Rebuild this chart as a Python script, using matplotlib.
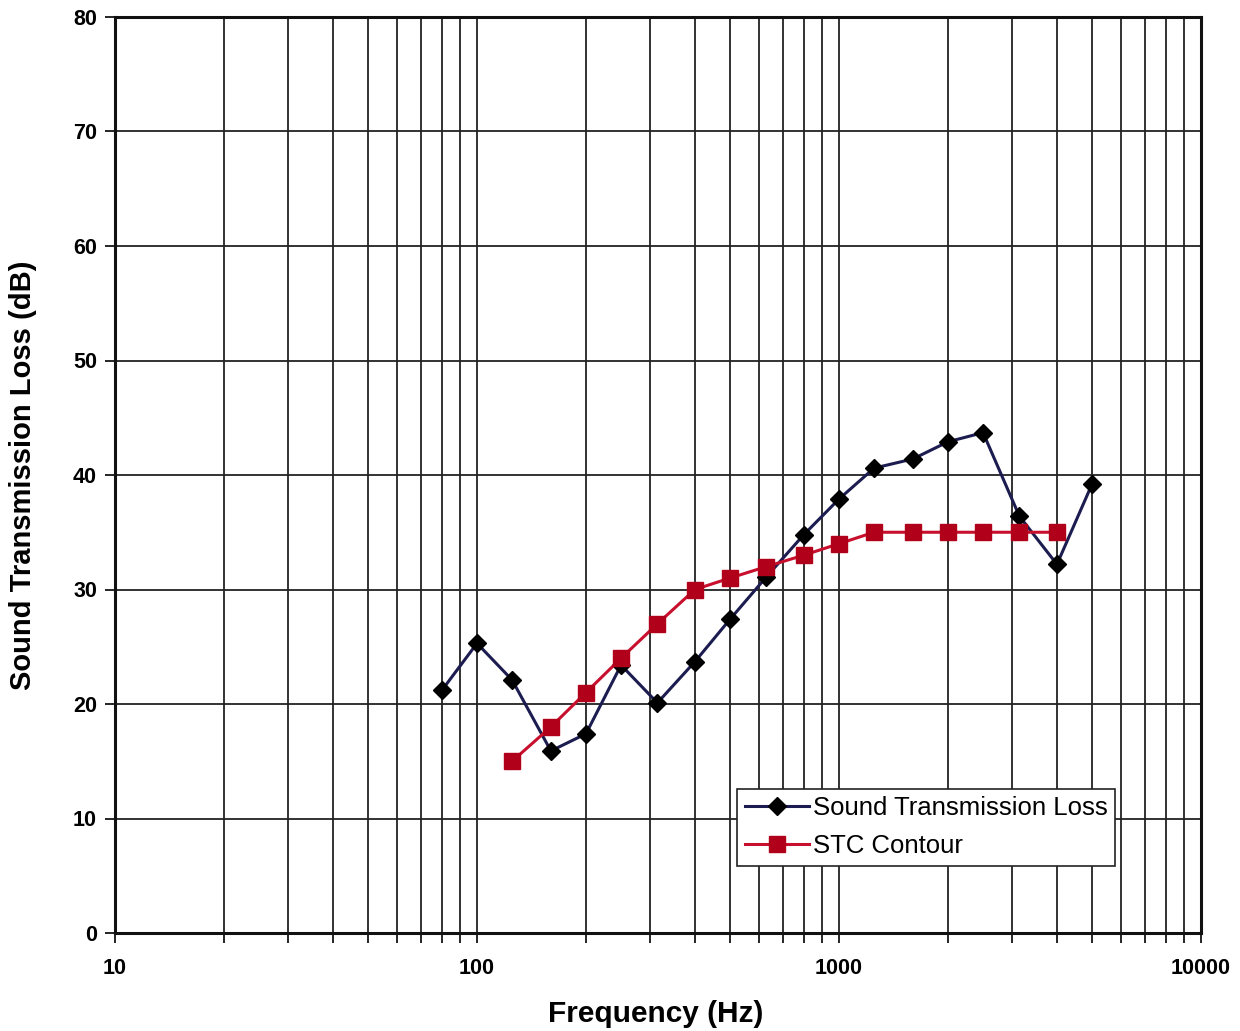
import matplotlib.pyplot as plt
from matplotlib.ticker import FixedLocator, NullFormatter

plt.rcParams['font.family'] = ['Liberation Sans', 'DejaVu Sans']

# 1/3 octave band data
freq_stl = [80, 100, 125, 160, 200, 250, 315, 400, 500, 630, 800,
            1000, 1250, 1600, 2000, 2500, 3150, 4000, 5000]
stl = [21.2, 25.3, 22.1, 15.9, 17.4, 23.4, 20.1, 23.7, 27.4, 31.1, 34.8,
       37.9, 40.6, 41.4, 42.9, 43.7, 36.4, 32.2, 39.2]

freq_stc = [125, 160, 200, 250, 315, 400, 500, 630, 800,
            1000, 1250, 1600, 2000, 2500, 3150, 4000]
stc = [15, 18, 21, 24, 27, 30, 31, 32, 33, 34, 35, 35, 35, 35, 35, 35]

x_ticks = [10, 100, 1000, 10000]
y_ticks = [0, 10, 20, 30, 40, 50, 60, 70, 80]

fig = plt.figure(figsize=(12.4, 10.31), dpi=100)
ax = fig.add_axes([115 / 1240, 1 - 933 / 1031, 1086 / 1240, 916 / 1031])

ax.set_xscale('log')
ax.set_xlim(10, 10000)
ax.set_ylim(0, 80)

minors = [m * d for d in (10, 100, 1000) for m in range(2, 10)]
ax.xaxis.set_major_locator(FixedLocator(x_ticks))
ax.xaxis.set_minor_locator(FixedLocator(minors))
ax.xaxis.set_minor_formatter(NullFormatter())
ax.set_xticklabels([str(t) for t in x_ticks])
ax.set_yticks(y_ticks)

ax.grid(True, which='major', axis='both', color='#222222', lw=1.3)
ax.grid(True, which='minor', axis='x', color='#222222', lw=1.3)
ax.set_axisbelow(True)

ax.plot(freq_stl, stl, color='#1c1c50', lw=2.2, marker='D', ms=9,
        mfc='black', mec='black', label='Sound Transmission Loss', zorder=3)
ax.plot(freq_stc, stc, color='#c8102e', lw=2.2, marker='s', ms=11,
        mfc='#b0001a', mec='#b0001a', label='STC Contour', zorder=3)

for s in ax.spines.values():
    s.set_linewidth(2.2)
    s.set_color('#111111')

ax.tick_params(axis='both', which='both', direction='out', length=7, width=1.2)
ax.tick_params(axis='x', which='both', pad=11, labelsize=15.5)
ax.tick_params(axis='y', pad=6, labelsize=15.5)
for lab in ax.get_xticklabels() + ax.get_yticklabels():
    lab.set_fontweight('bold')

fig.text(656 / 1240, 1 - 1014 / 1031, 'Frequency (Hz)', fontsize=21.5,
         fontweight='bold', ha='center', va='center')
fig.text(23 / 1240, 1 - 475 / 1031, 'Sound Transmission Loss (dB)', fontsize=21,
         fontweight='bold', ha='center', va='center', rotation=90)

leg = ax.legend(loc='lower right', bbox_to_anchor=(0.921, 0.073), fontsize=18.5,
                frameon=True, fancybox=False, borderpad=0.3, handlelength=2.5,
                handletextpad=0.15, labelspacing=0.55, borderaxespad=0)
leg.get_frame().set_edgecolor('#222222')
leg.get_frame().set_linewidth(1.2)
leg.get_frame().set_alpha(1)

fig.savefig('out.png', dpi=100)
